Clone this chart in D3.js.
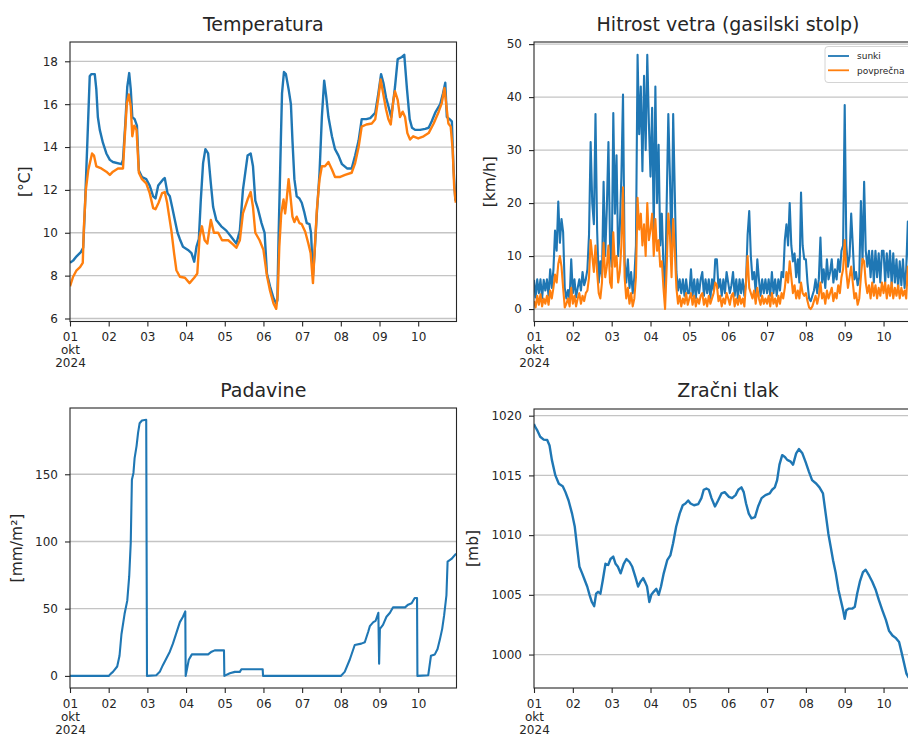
<!DOCTYPE html>
<html>
<head>
<meta charset="utf-8">
<script src="https://cdn.jsdelivr.net/npm/d3@7"></script>
<style>
  body { margin: 0; background: #fff; }
  svg { display: block; }
  text { font-family: "DejaVu Sans", sans-serif; }
</style>
</head>
<body>
<svg id="chart" width="908" height="738"></svg>
<script>
// ---- data: days since 1 Oct 2024 00:00 ----
const dayTicks = [0, 1, 2, 3, 4, 5, 6, 7, 8, 9];
const dayTickLabels = ["01", "02", "03", "04", "05", "06", "07", "08", "09", "10"];
const monthLabel = "okt";
const yearLabel = "2024";

const tempTicks = [6, 8, 10, 12, 14, 16, 18];
const windTicks = [0, 10, 20, 30, 40, 50];
const rainTicks = [0, 50, 100, 150];
const pressureTicks = [1000, 1005, 1010, 1015, 1020];

// temperature, two sensors: [day, °C]
const tempSensorA = [
  [0.00,8.6],[0.08,8.7],[0.17,8.9],[0.28,9.1],[0.34,9.3],[0.38,10.9],[0.45,14.3],[0.51,17.3],[0.55,17.4],[0.64,17.4],
  [0.68,16.7],[0.72,15.4],[0.77,14.8],[0.85,14.2],[0.94,13.7],[1.03,13.4],[1.11,13.3],[1.33,13.2],[1.37,13.4],[1.43,15.1],
  [1.48,16.8],[1.53,17.45],[1.57,16.7],[1.61,15.4],[1.67,15.3],[1.73,15.0],[1.78,12.9],[1.86,12.6],[1.97,12.5],[2.06,12.2],
  [2.15,11.7],[2.21,11.6],[2.28,12.2],[2.41,12.5],[2.45,12.55],[2.52,11.85],[2.58,11.7],[2.64,11.2],[2.71,10.6],[2.78,10.0],
  [2.84,9.7],[2.92,9.35],[3.05,9.2],[3.14,9.05],[3.21,8.65],[3.27,9.35],[3.33,9.7],[3.38,11.5],[3.44,13.25],[3.50,13.9],
  [3.57,13.7],[3.64,12.3],[3.70,11.2],[3.78,10.6],[3.91,10.3],[4.04,10.1],[4.17,9.8],[4.30,9.5],[4.39,10.1],[4.47,12.0],
  [4.59,13.6],[4.67,13.7],[4.73,13.1],[4.79,11.5],[4.86,11.1],[4.95,10.45],[5.03,10.0],[5.09,8.1],[5.17,7.5],[5.26,6.95],
  [5.33,6.7],[5.36,6.85],[5.39,9.7],[5.45,14.3],[5.48,16.5],[5.53,17.5],[5.58,17.4],[5.65,16.7],[5.71,16.0],[5.75,14.3],
  [5.80,12.5],[5.86,11.7],[5.93,11.6],[5.99,11.4],[6.05,11.0],[6.12,10.45],[6.19,10.4],[6.23,10.0],[6.28,8.0],[6.32,9.0],
  [6.38,10.9],[6.45,12.8],[6.51,15.4],[6.57,17.1],[6.62,16.4],[6.68,15.4],[6.77,14.5],[6.85,13.9],[6.94,13.6],[7.03,13.2],
  [7.16,13.0],[7.28,13.0],[7.37,13.6],[7.46,14.3],[7.54,15.3],[7.66,15.3],[7.76,15.35],[7.89,15.6],[7.97,16.5],[8.04,17.4],
  [8.10,17.0],[8.17,16.3],[8.23,15.9],[8.30,15.4],[8.36,16.2],[8.40,16.8],[8.47,18.1],[8.58,18.2],[8.64,18.3],[8.71,16.7],
  [8.78,15.3],[8.84,14.9],[8.92,14.8],[9.05,14.8],[9.18,14.85],[9.27,14.9],[9.35,15.2],[9.44,15.6],[9.57,16.0],[9.64,16.5],
  [9.70,17.0],[9.74,15.4],[9.81,15.3],[9.87,15.2],[9.91,13.1],[9.96,11.5]
];
const tempSensorB = [
  [0.00,7.5],[0.08,7.95],[0.17,8.25],[0.26,8.4],[0.33,8.6],[0.36,10.3],[0.41,12.0],[0.47,12.9],[0.57,13.7],[0.62,13.6],
  [0.68,13.1],[0.81,13.0],[0.94,12.85],[1.03,12.7],[1.11,12.85],[1.24,13.0],[1.37,13.0],[1.41,14.3],[1.47,16.05],[1.52,16.45],
  [1.57,15.9],[1.61,14.5],[1.66,15.0],[1.72,14.8],[1.78,12.8],[1.86,12.5],[1.97,12.3],[2.06,11.85],[2.15,11.15],[2.21,11.1],
  [2.29,11.4],[2.38,11.85],[2.45,11.9],[2.51,11.4],[2.56,10.8],[2.62,10.1],[2.69,9.05],[2.75,8.25],[2.84,7.95],[2.97,7.9],
  [3.09,7.65],[3.21,7.9],[3.29,8.1],[3.35,9.8],[3.41,10.3],[3.48,9.65],[3.55,9.5],[3.64,10.6],[3.72,10.0],[3.83,10.0],
  [3.93,9.65],[4.09,9.65],[4.22,9.45],[4.30,9.3],[4.39,9.65],[4.47,10.9],[4.59,11.55],[4.67,11.9],[4.73,11.2],[4.79,10.0],
  [4.90,9.65],[5.00,9.2],[5.09,8.0],[5.17,7.3],[5.26,6.7],[5.33,6.45],[5.37,7.15],[5.41,9.35],[5.46,10.9],[5.52,11.55],
  [5.56,10.9],[5.60,11.55],[5.65,12.5],[5.69,11.85],[5.75,10.75],[5.80,10.5],[5.86,10.75],[5.93,10.45],[5.99,10.4],[6.08,10.05],
  [6.16,9.5],[6.22,9.05],[6.28,7.65],[6.32,9.05],[6.38,11.05],[6.45,12.5],[6.51,13.1],[6.59,13.1],[6.68,13.3],[6.77,12.95],
  [6.85,12.6],[6.97,12.6],[7.11,12.7],[7.28,12.8],[7.37,13.25],[7.46,14.0],[7.54,14.95],[7.66,15.05],[7.80,15.1],[7.89,15.3],
  [7.97,16.3],[8.03,17.15],[8.10,16.45],[8.17,15.75],[8.23,15.3],[8.29,15.05],[8.36,16.2],[8.40,16.6],[8.47,16.2],[8.53,15.4],
  [8.60,15.65],[8.66,15.4],[8.72,14.65],[8.79,14.35],[8.87,14.5],[9.00,14.4],[9.14,14.5],[9.27,14.65],[9.40,15.1],[9.53,15.65],
  [9.61,16.05],[9.68,16.75],[9.73,15.9],[9.78,15.1],[9.84,14.95],[9.89,13.9],[9.93,12.15],[9.97,11.4]
];

// wind speed, hourly values [km/h]
const sunki = [
  5.5,2.2,5.6,3.0,5.6,2.0,5.5,3.5,5.6,2.5,7.5,4.0,7.4,14.8,11.0,20.3,12.5,17.0,14.5,4.0,2.0,3.6,1.8,9.4,
  3.0,5.6,2.2,4.0,5.6,3.5,7.0,4.5,5.6,7.5,14.0,31.5,20.0,16.0,36.8,15.0,5.0,9.0,6.0,24.0,10.0,19.0,31.5,12.0,
  8.0,37.0,18.0,29.0,10.0,15.0,25.0,40.5,9.0,5.0,9.4,4.0,7.0,3.0,6.0,12.0,48.0,33.0,42.0,26.0,44.0,30.0,48.0,35.0,
  25.0,38.0,15.0,42.0,20.0,31.0,12.0,18.0,8.0,3.0,20.0,36.8,25.0,10.0,36.8,22.0,7.0,3.5,5.6,3.0,5.6,2.5,5.6,3.0,
  3.0,7.5,2.5,5.6,2.0,5.6,3.0,5.6,7.0,2.5,5.6,3.0,5.6,2.0,5.6,3.5,9.4,9.4,4.0,5.6,2.5,5.6,3.0,7.0,
  5.0,3.0,4.5,7.0,2.5,5.6,2.0,5.6,3.0,5.6,2.5,5.0,14.0,18.5,10.0,5.6,7.0,3.0,9.4,5.6,2.5,5.6,3.0,5.6,
  3.0,5.6,2.5,7.0,3.0,5.6,2.5,5.6,3.5,7.0,6.0,13.0,16.0,12.0,20.0,12.0,9.0,10.5,6.0,9.4,5.0,22.0,12.0,9.4,
  9.4,5.0,2.0,1.5,2.5,3.5,5.6,3.0,5.6,13.5,5.0,7.5,4.0,9.4,5.6,7.0,9.4,5.0,7.5,5.6,9.4,7.0,11.0,12.0,
  38.5,12.0,8.0,10.0,18.0,12.0,5.6,7.0,4.5,6.0,20.4,9.0,24.0,11.0,8.0,11.0,6.0,11.0,5.0,11.0,6.0,10.5,5.0,11.0,
  11.0,5.0,10.5,6.0,11.0,4.5,10.5,5.0,9.4,4.0,9.0,4.5,9.4,4.0,7.5,16.5,6.0,11.0,5.0,9.4,4.0,7.0,5.0,6.0
];
const povprecna = [
  1.5,0.3,2.5,0.8,2.8,0.5,2.0,1.0,2.5,0.8,3.5,2.0,4.0,6.5,5.0,8.5,10.0,8.0,4.0,0.3,1.0,2.0,0.5,4.0,
  1.0,2.5,0.5,2.0,3.0,1.0,2.5,1.5,3.0,3.5,6.0,13.0,10.0,7.0,12.0,7.0,3.0,2.0,5.0,12.5,6.0,8.0,12.0,5.0,
  4.0,14.5,8.0,10.0,5.0,7.0,12.0,23.0,6.0,2.0,4.0,1.0,3.0,0.5,2.0,6.0,21.0,15.0,18.0,12.0,16.0,10.0,20.0,13.0,
  15.0,18.0,10.0,17.0,11.0,13.0,8.0,9.0,4.0,0.0,8.0,18.0,14.0,6.0,17.0,11.0,4.0,1.0,2.5,0.5,2.0,1.0,3.0,0.8,
  2.0,3.0,0.8,2.5,0.5,2.0,1.0,2.5,3.0,0.8,2.0,0.5,2.5,1.0,2.0,3.0,5.0,4.5,1.5,2.5,0.5,2.0,1.0,3.0,
  2.0,0.8,2.5,3.0,0.5,2.0,0.8,2.5,1.0,2.0,0.5,5.0,10.0,4.0,3.0,2.0,3.5,1.0,4.0,2.0,0.8,2.5,1.0,2.0,
  1.0,2.5,0.5,3.0,1.0,2.0,0.5,2.5,1.0,3.0,2.0,4.0,7.0,5.0,9.0,6.0,3.0,4.5,2.0,3.5,2.0,5.0,3.0,2.5,
  3.0,1.5,0.3,0.0,0.5,1.5,2.5,1.0,2.5,5.0,2.0,3.0,1.0,3.5,2.0,3.0,4.0,1.5,3.0,2.0,4.5,3.0,6.0,7.5,
  13.0,7.0,4.0,6.0,8.0,5.0,2.0,3.0,0.8,2.0,6.0,9.5,9.0,5.0,3.0,4.5,2.0,5.0,2.5,4.5,2.0,4.0,2.5,5.0,
  3.0,5.0,2.0,4.5,2.5,5.0,2.0,4.0,2.5,4.5,2.0,4.0,2.5,3.5,2.0,8.0,3.0,4.5,2.0,4.0,2.5,3.0,2.0,3.5
];

// precipitation: [day, mm/m²]
const padavine = [
  [0,0],[1.0,0],[1.05,1.5],[1.11,3],[1.22,7],[1.28,15],[1.33,31],[1.41,46],[1.48,56],[1.53,74],
  [1.57,99],[1.60,146],[1.64,151],[1.67,162],[1.72,171],[1.76,181],[1.80,188],[1.86,190],[1.97,190.5],[1.99,0],
  [2.23,0.5],[2.32,3],[2.40,8],[2.49,13],[2.58,18],[2.66,24],[2.75,32],[2.84,40],[2.92,44],[2.98,48],
  [2.99,0],[3.07,12],[3.15,16],[3.57,16],[3.66,18],[3.74,19],[3.98,19],[3.99,0],[4.13,2],[4.26,3],
  [4.39,3],[4.43,5],[4.98,5],[4.99,0],[7.0,0],[7.1,3],[7.23,12],[7.36,23],[7.53,24],[7.62,25],
  [7.71,33],[7.75,37],[7.84,40],[7.90,41],[7.97,47],[7.99,9],[8.01,35],[8.09,38],[8.18,44],[8.27,47],
  [8.35,51],[8.66,51],[8.74,53],[8.83,54],[8.91,58],[8.97,58],[8.98,0],[9.26,0.5],[9.33,15],[9.43,16],
  [9.50,20],[9.56,27],[9.62,35],[9.67,45],[9.73,60],[9.76,85],[9.86,87],[9.98,91]
];

// air pressure: [day, mb]
const tlak = [
  [0.00,1019.3],[0.02,1019.13],[0.08,1018.8],[0.16,1018.24],[0.25,1018.0],[0.34,1017.96],[0.40,1017.5],[0.46,1016.3],
  [0.55,1015.0],[0.64,1014.3],[0.74,1014.1],[0.81,1013.6],[0.89,1012.9],[0.98,1011.8],[1.05,1010.7],[1.11,1009.0],
  [1.17,1007.35],[1.24,1006.8],[1.31,1006.2],[1.37,1005.7],[1.43,1005.0],[1.49,1004.4],[1.55,1004.05],[1.60,1005.1],
  [1.65,1005.25],[1.71,1005.1],[1.77,1006.2],[1.84,1007.6],[1.91,1007.5],[1.97,1008.0],[2.04,1008.2],[2.10,1007.6],
  [2.16,1007.35],[2.23,1006.8],[2.31,1007.6],[2.38,1008.0],[2.46,1007.75],[2.53,1007.35],[2.61,1006.5],[2.68,1005.7],
  [2.74,1006.1],[2.81,1006.4],[2.87,1006.0],[2.91,1005.7],[2.97,1004.4],[3.02,1005.0],[3.08,1005.25],[3.15,1005.5],
  [3.21,1005.0],[3.27,1005.7],[3.34,1006.8],[3.43,1007.9],[3.51,1008.3],[3.58,1009.3],[3.66,1010.7],[3.75,1011.8],
  [3.83,1012.5],[3.90,1012.65],[3.97,1012.9],[4.03,1012.65],[4.12,1012.5],[4.23,1012.6],[4.31,1013.1],[4.37,1013.8],
  [4.44,1013.9],[4.50,1013.8],[4.57,1013.1],[4.66,1012.4],[4.74,1012.9],[4.83,1013.5],[4.91,1013.6],[5.02,1013.2],
  [5.10,1013.1],[5.19,1013.35],[5.26,1013.8],[5.34,1014.0],[5.40,1013.6],[5.46,1012.65],[5.53,1011.8],[5.60,1011.4],
  [5.69,1011.5],[5.77,1012.4],[5.86,1013.1],[5.96,1013.35],[6.07,1013.5],[6.13,1013.8],[6.20,1014.0],[6.26,1014.6],
  [6.32,1015.9],[6.39,1016.7],[6.46,1016.55],[6.52,1016.3],[6.61,1016.15],[6.67,1015.9],[6.75,1016.85],[6.82,1017.2],
  [6.91,1016.85],[6.99,1016.15],[7.08,1015.3],[7.16,1014.6],[7.27,1014.3],[7.35,1014.0],[7.44,1013.5],[7.51,1011.8],
  [7.58,1010.1],[7.64,1009.0],[7.70,1007.9],[7.77,1006.8],[7.84,1005.4],[7.90,1004.55],[7.96,1003.7],[8.00,1003.0],
  [8.04,1003.7],[8.11,1003.85],[8.20,1003.85],[8.26,1004.0],[8.32,1005.1],[8.39,1006.1],[8.47,1006.9],[8.54,1007.1],
  [8.63,1006.6],[8.71,1006.1],[8.80,1005.4],[8.88,1004.55],[8.97,1003.7],[9.06,1002.9],[9.14,1002.0],[9.23,1001.6],
  [9.31,1001.4],[9.40,1001.05],[9.47,1000.1],[9.53,999.25],[9.59,998.4],[9.64,998.1],[9.75,997.9],[9.90,998.0]
];

// ---- drawing ----
const BLUE = "#1f77b4", ORANGE = "#ff7f0e", INK = "#262626";
const start = new Date(2024, 9, 1);
const dayToDate = d => new Date(start.getTime() + d * 864e5);
const endDate = dayToDate(9.99);

const svg = d3.select("#chart");
svg.append("rect").attr("width", 908).attr("height", 738).attr("fill", "#fff");

const hourly = arr => arr.map((v, i) => [i / 24, v]);

const panels = [
  { title: "Temperatura", ylabel: "[°C]", box: [70, 42, 456.5, 321.5], yDomain: [5.86, 18.9], yTicks: tempTicks,
    titleY: 31, ylabelX: 25,
    series: [ { data: tempSensorA, color: BLUE, width: 2.4 }, { data: tempSensorB, color: ORANGE, width: 2.4 } ] },
  { title: "Hitrost vetra (gasilski stolp)", ylabel: "[km/h]", box: [534, 42, 922, 321.5], yDomain: [-2.35, 50.4], yTicks: windTicks,
    titleY: 31, ylabelX: 489.5, legend: ["sunki", "povprečna"],
    series: [ { data: hourly(sunki), color: BLUE, width: 2.1 }, { data: hourly(povprecna), color: ORANGE, width: 2.1 } ] },
  { title: "Padavine", ylabel: "[mm/m²]", box: [70, 408, 456.5, 688], yDomain: [-9.0, 199.3], yTicks: rainTicks,
    titleY: 397, ylabelX: 16.5,
    series: [ { data: padavine, color: BLUE, width: 2.1 } ] },
  { title: "Zračni tlak", ylabel: "[mb]", box: [534, 409, 922, 688], yDomain: [997.2, 1020.56], yTicks: pressureTicks,
    titleY: 397, ylabelX: 472.5,
    series: [ { data: tlak, color: BLUE, width: 2.4 } ] }
];

panels.forEach((p, pi) => {
  const [x0, y0, x1, y1] = p.box;
  const x = d3.scaleTime().domain([start, endDate]).range([x0, x1]);
  const y = d3.scaleLinear().domain(p.yDomain).range([y1, y0]);
  const g = svg.append("g");

  // horizontal grid
  g.append("g").selectAll("line").data(p.yTicks).join("line")
    .attr("x1", x0).attr("x2", x1)
    .attr("y1", d => y(d)).attr("y2", d => y(d))
    .attr("stroke", "#c4c4c4").attr("stroke-width", 1.3);

  // series
  const clipId = "clip" + pi;
  svg.append("clipPath").attr("id", clipId).append("rect")
    .attr("x", x0).attr("y", y0).attr("width", x1 - x0).attr("height", y1 - y0);
  const line = d3.line().x(d => x(dayToDate(d[0]))).y(d => y(d[1]));
  p.series.forEach(s => {
    g.append("path").datum(s.data).attr("clip-path", `url(#${clipId})`)
      .attr("d", line).attr("fill", "none")
      .attr("stroke", s.color).attr("stroke-width", s.width)
      .attr("stroke-linejoin", "round").attr("stroke-linecap", "butt");
  });

  // frame
  g.append("rect").attr("x", x0).attr("y", y0).attr("width", x1 - x0).attr("height", y1 - y0)
    .attr("fill", "none").attr("stroke", INK).attr("stroke-width", 1.1);

  // y axis
  const gy = g.append("g").attr("transform", `translate(${x0},0)`)
    .call(d3.axisLeft(y).tickValues(p.yTicks).tickSize(5).tickPadding(7).tickFormat(d3.format("d")));
  gy.select(".domain").remove();
  gy.selectAll("line").attr("stroke", INK).attr("stroke-width", 1.1);
  gy.selectAll("text").attr("font-size", 12).attr("fill", INK).attr("font-family", "DejaVu Sans");

  // x axis
  const gx = g.append("g").attr("transform", `translate(0,${y1})`)
    .call(d3.axisBottom(x).tickValues(dayTicks.map(dayToDate)).tickSize(5).tickPadding(6)
      .tickFormat((d, i) => dayTickLabels[i]));
  gx.select(".domain").remove();
  gx.selectAll("line").attr("stroke", INK).attr("stroke-width", 1.1);
  gx.selectAll("text").attr("font-size", 12).attr("fill", INK).attr("font-family", "DejaVu Sans");
  const first = gx.select(".tick text");
  first.append("tspan").attr("x", 0).attr("dy", "1.1em").text(monthLabel);
  first.append("tspan").attr("x", 0).attr("dy", "1.1em").text(yearLabel);

  // title and y label
  g.append("text").attr("x", (x0 + x1) / 2).attr("y", p.titleY)
    .attr("text-anchor", "middle").attr("font-size", 19).attr("fill", INK).text(p.title);
  g.append("text").attr("transform", `translate(${p.ylabelX},${(y0 + y1) / 2}) rotate(-90)`)
    .attr("text-anchor", "middle").attr("dominant-baseline", "central")
    .attr("font-size", 15.5).attr("fill", INK).text(p.ylabel);

  // legend
  if (p.legend) {
    const lg = g.append("g");
    lg.append("rect").attr("x", x1 - 97).attr("y", y0 + 4.5).attr("width", 92).attr("height", 36)
      .attr("rx", 3).attr("fill", "#fff").attr("fill-opacity", 0.85)
      .attr("stroke", "#d4d4d4").attr("stroke-width", 1);
    p.legend.forEach((name, i) => {
      const ly = y0 + 14 + i * 14.3;
      lg.append("line").attr("x1", x1 - 94).attr("x2", x1 - 73).attr("y1", ly).attr("y2", ly)
        .attr("stroke", p.series[i].color).attr("stroke-width", 1.8);
      lg.append("text").attr("x", x1 - 65).attr("y", ly + 3.2)
        .attr("font-size", 9).attr("fill", INK).text(name);
    });
  }
});
</script>
</body>
</html>
